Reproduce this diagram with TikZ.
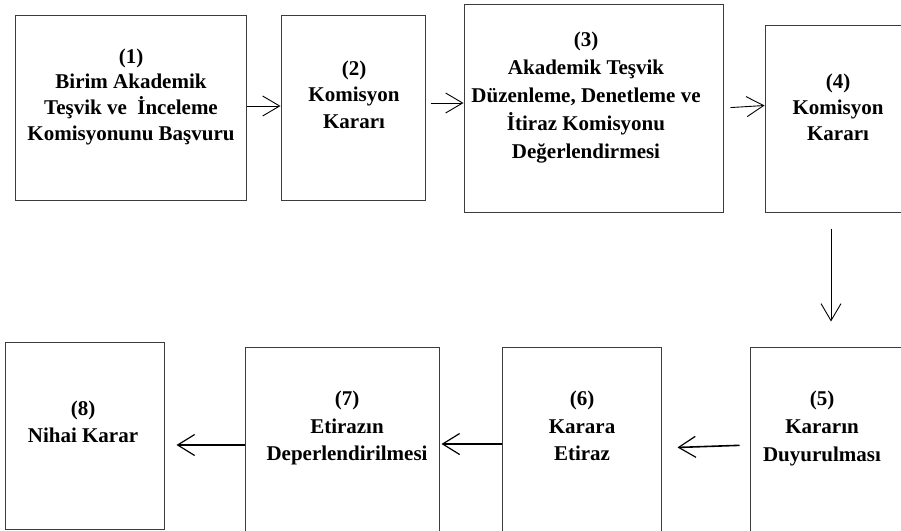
\documentclass[tikz,border=0pt]{standalone}
\usepackage{fontspec}
\setmainfont{Liberation Serif}
\usetikzlibrary{arrows.meta,calc}
\definecolor{boxline}{RGB}{60,60,60}
\tikzset{
  box/.style={draw=boxline,line width=1pt,inner sep=0pt,fill=none},
  lbl/.style={anchor=base,inner sep=0pt,font=\fontsize{21}{25}\selectfont\bfseries},
  arrup/.style={line width=0.9pt,-{Straight Barb[length=17pt,width=20pt,line width=0.9pt]}},
  arrlow/.style={line width=1.6pt,-{Straight Barb[length=17pt,width=21pt,line width=1.2pt]}}
}
\begin{document}
\begin{tikzpicture}[x=1pt,y=-1pt]
\useasboundingbox (0,0) rectangle (901,530);
\clip (0,0) rectangle (901,530);
\fill[white] (0,0) rectangle (901,530);
% boxes
\node[box,minimum width=231pt,minimum height=185pt] (b1) at (130.5,107.5) {};
\node[box,minimum width=144pt,minimum height=185pt] (b2) at (353,107.5) {};
\node[box,minimum width=259pt,minimum height=208pt] (b3) at (593.5,108) {};
\node[box,minimum width=146pt,minimum height=187pt] (b4) at (838,118.5) {};
\node[box,minimum width=160pt,minimum height=213pt] (b5) at (830,453.5) {};
\node[box,minimum width=159pt,minimum height=213pt] (b6) at (581.5,453.5) {};
\node[box,minimum width=194pt,minimum height=213pt] (b7) at (342,453.5) {};
\node[box,minimum width=159pt,minimum height=187pt] (b8) at (84.5,435.5) {};
% texts
\node[lbl] (t1a) at (131,63) {(1)};
\node[lbl] (t1b) at (131,88.5) {Birim Akademik};
\node[lbl] (t1c) at (131,114.5) {Teşvik ve\ \ İnceleme};
\node[lbl] (t1d) at (131,140) {Komisyonunu Başvuru};
\node[lbl] (t2a) at (354,75) {(2)};
\node[lbl] (t2b) at (354,101.5) {Komisyon};
\node[lbl] (t2c) at (354,128) {Kararı};
\node[lbl] (t3a) at (586,46) {(3)};
\node[lbl] (t3b) at (586,74) {Akademik Teşvik};
\node[lbl] (t3c) at (586,102.5) {Düzenleme, Denetleme ve};
\node[lbl] (t3d) at (586,130.5) {İtiraz Komisyonu};
\node[lbl] (t3e) at (586,158) {Değerlendirmesi};
\node[lbl] (t4a) at (838,88) {(4)};
\node[lbl] (t4b) at (838,114.5) {Komisyon};
\node[lbl] (t4c) at (838,140.5) {Kararı};
\node[lbl] (t5a) at (822,405) {(5)};
\node[lbl] (t5b) at (822,433) {Kararın};
\node[lbl] (t5c) at (822,461.5) {Duyurulması};
\node[lbl] (t6a) at (582,405) {(6)};
\node[lbl] (t6b) at (582,433) {Karara};
\node[lbl] (t6c) at (582,460.5) {Etiraz};
\node[lbl] (t7a) at (347,405) {(7)};
\node[lbl] (t7b) at (347,433) {Etirazın};
\node[lbl] (t7c) at (347,460.5) {Deperlendirilmesi};
\node[lbl] (t8a) at (83,415) {(8)};
\node[lbl] (t8b) at (83,442) {Nihai Karar};
% connectors
\draw[arrup] ([yshift=1.5pt]b1.east) -- ([yshift=1.5pt]b2.west);
\draw[arrup,shorten <=5pt] ([yshift=4.5pt]b2.east) -- ([yshift=5pt]b3.west);
\draw[arrup,shorten <=7pt] ([yshift=0pt]b3.east) -- ([yshift=13pt]b4.west);
\draw[arrup,shorten <=16pt,shorten >=25pt] ([xshift=-7pt]b4.south) -- ([xshift=-7pt]b4.south |- b5.north);
\draw[arrlow,shorten <=10pt,shorten >=16pt] ([yshift=8.5pt]b5.west) -- ([yshift=5.5pt]b6.east);
\draw[arrlow,shorten >=2pt] ([yshift=9.5pt]b6.west) -- ([yshift=9.5pt]b7.east);
\draw[arrlow,shorten >=12pt] ([yshift=8.5pt]b7.west) -- ([yshift=-9.5pt]b8.east);
\end{tikzpicture}
\end{document}
